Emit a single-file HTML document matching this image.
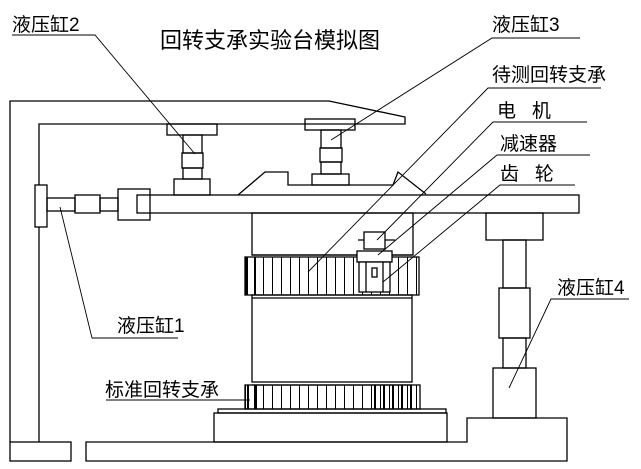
<!DOCTYPE html>
<html><head><meta charset="utf-8"><style>
html,body{margin:0;padding:0;background:#fff;}
svg{display:block;}
text{font-family:"Liberation Sans","Noto Sans CJK SC",sans-serif;fill:#000;}
</style></head><body>
<svg width="641" height="469" viewBox="0 0 641 469" xmlns="http://www.w3.org/2000/svg">
<defs>
<pattern id="teeth" x="245" y="0" width="9" height="10" patternUnits="userSpaceOnUse">
<line x1="0.5" y1="0" x2="0.5" y2="10" stroke="#000" stroke-width="1"/>
</pattern>
</defs>
<g fill="none" stroke="#000" stroke-width="1.3">
<!-- frame -->
<path d="M10,442 L10,101 L329,101 L405,117 L405,124 L39,124 L39,185"/>
<line x1="39" y1="227" x2="39" y2="442"/>
<rect x="10" y="442" width="61" height="19"/>
<path d="M86,461 L86,442 L467,442 L467,418 L567,418 L567,461 Z"/>
<!-- cylinder 1 -->
<rect x="35" y="185" width="12" height="42"/>
<rect x="47" y="198" width="28" height="13"/>
<rect x="75" y="195" width="25" height="18"/>
<rect x="100" y="198" width="18" height="13"/>
<rect x="118" y="189" width="32" height="31"/>
<!-- platform -->
<rect x="137" y="195" width="442" height="18"/>
<path d="M238,195 L265,172 L288,172 L288,185 L393,185 L398,172 L426,194"/>
<!-- cylinder 2 -->
<rect x="167" y="124" width="50" height="11"/>
<rect x="183" y="135" width="19" height="18"/>
<rect x="182" y="153" width="21" height="15"/>
<rect x="183" y="168" width="19" height="11"/>
<rect x="174" y="179" width="36" height="16"/>
<!-- cylinder 3 -->
<rect x="305" y="119" width="50" height="11"/>
<rect x="321" y="130" width="20" height="18"/>
<rect x="320" y="148" width="22" height="14"/>
<rect x="321" y="162" width="20" height="12"/>
<rect x="312" y="174" width="37" height="11"/>
<!-- main body -->
<rect x="252" y="213" width="161" height="42"/>
<rect x="252" y="295" width="160" height="87"/>
<line x1="252" y1="255" x2="413" y2="255"/>
<line x1="252" y1="298" x2="412" y2="298"/>
<line x1="252" y1="385" x2="412" y2="385"/>
<rect x="245" y="257" width="174" height="38" fill="url(#teeth)"/>
<line x1="247" y1="257" x2="247" y2="295" stroke-width="2"/>
<line x1="255" y1="257" x2="255" y2="295" stroke-width="2"/>
<!-- motor/reducer/gear -->
<line x1="358" y1="240" x2="395" y2="240"/>
<rect x="364" y="232" width="21" height="17" fill="#fff"/>
<rect x="357" y="251" width="35" height="11" fill="#fff"/>
<rect x="359" y="262" width="31" height="30" fill="#fff"/>
<line x1="366" y1="262" x2="366" y2="292"/>
<line x1="383" y1="262" x2="383" y2="292"/>
<rect x="372" y="268" width="5" height="9"/>
<!-- lower bearing -->
<rect x="245" y="385" width="175" height="24" fill="url(#teeth)"/>
<line x1="248" y1="385" x2="248" y2="409" stroke-width="2"/>
<line x1="256" y1="385" x2="256" y2="409" stroke-width="2"/>
<line x1="375" y1="385" x2="375" y2="409" stroke-width="2"/>
<line x1="384" y1="385" x2="384" y2="409" stroke-width="2"/>
<line x1="393" y1="385" x2="393" y2="409" stroke-width="2"/>
<line x1="402" y1="385" x2="402" y2="409" stroke-width="2"/>
<line x1="411" y1="385" x2="411" y2="409" stroke-width="2"/>
<rect x="218" y="409" width="228" height="4"/>
<rect x="214" y="413" width="233" height="29"/>
<!-- cylinder 4 -->
<rect x="486" y="213" width="57" height="27"/>
<rect x="503" y="240" width="23" height="48"/>
<rect x="499" y="288" width="31" height="50"/>
<rect x="503" y="338" width="23" height="30"/>
<rect x="493" y="368" width="43" height="50"/>
</g>
<!-- leaders -->
<g stroke="#000" stroke-width="0.9" fill="none">
<path d="M12,35 L95,35 L195,154"/>
<path d="M580,38 L492,38 L331,140"/>
<path d="M601,88 L488,88 L308,272"/>
<path d="M587,122 L493,122 L377,240"/>
<path d="M590,155 L497,155 L378,255"/>
<path d="M575,185 L500,185 L383,282"/>
<path d="M178,338 L92,338 L60,207"/>
<path d="M250,400 L106,400"/>
<path d="M629,299 L551,299 L509,388"/>
</g>
<!-- labels -->
<g font-size="19">
<text x="160" y="48" font-size="22">回转支承实验台模拟图</text>
<text x="12" y="31">液压缸2</text>
<text x="492" y="31">液压缸3</text>
<text x="492" y="81">待测回转支承</text>
<text x="497" y="117">电&#160;&#160;&#160;机</text>
<text x="500" y="150">减速器</text>
<text x="500" y="180">齿&#160;&#160;&#160;轮</text>
<text x="117" y="332">液压缸1</text>
<text x="105" y="396">标准回转支承</text>
<text x="557" y="294">液压缸4</text>
</g>
</svg>
</body></html>
